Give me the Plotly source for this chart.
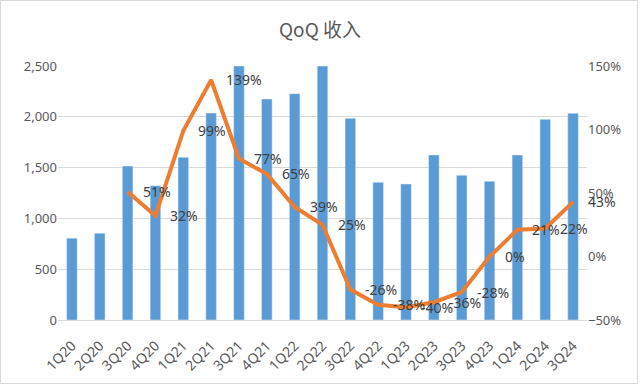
import plotly.graph_objects as go

quarters = ["1Q20","2Q20","3Q20","4Q20","1Q21","2Q21","3Q21","4Q21","1Q22","2Q22",
            "3Q22","4Q22","1Q23","2Q23","3Q23","4Q23","1Q24","2Q24","3Q24"]
revenue = [805, 855, 1515, 1322, 1601, 2037, 2500, 2175, 2228, 2500,
           1985, 1355, 1339, 1624, 1424, 1365, 1624, 1975, 2034]
qoq_quarters = quarters[2:]
qoq_pct = [51, 32, 99, 139, 77, 65, 39, 25, -26, -38, -40, -36, -28, 0, 21, 22, 43]

L, T, W, H = 58, 66, 529, 254
fig = go.Figure()
fig.add_trace(go.Bar(x=quarters, y=revenue, marker_color="#5B9BD5", width=0.38, yaxis="y"))
fig.add_trace(go.Scatter(
    x=qoq_quarters, y=qoq_pct, yaxis="y2", mode="lines",
    line=dict(color="#ED7D31", width=4),
))
for q, v in zip(qoq_quarters, qoq_pct):
    fig.add_annotation(x=q, y=v, xref="x", yref="y2", text=f"{v}%", showarrow=False,
                       xanchor="left", yanchor="middle", xshift=13,
                       font=dict(size=14, color="#404040", family="Noto Sans"))

tf = dict(size=13, color="#595959", family="Noto Sans")
fig.update_layout(
    width=640, height=385,
    margin=dict(l=L, r=640 - L - W, t=T, b=385 - T - H, autoexpand=False),
    paper_bgcolor="white", plot_bgcolor="white",
    showlegend=False,
    title=dict(text="QoQ 收入", x=0.5, xanchor="center", y=0.92, yanchor="middle",
               font=dict(family="Noto Sans CJK SC", size=19, color="#595959")),
    xaxis=dict(type="category", range=[-0.5, len(quarters) - 0.5], tickangle=-45,
               tickfont=dict(size=14, color="#595959", family="Noto Sans"),
               automargin=False, showline=True, linecolor="#d9d9d9", ticks="outside", ticklen=11,
               tickcolor="rgba(0,0,0,0)", showgrid=False),
    yaxis=dict(range=[0, 2500], dtick=500, tickformat=",", gridcolor="#d9d9d9", automargin=False,
               tickfont=tf, zeroline=False, ticks=""),
    yaxis2=dict(range=[-50, 150], dtick=50, overlaying="y", side="right", showgrid=False,
                ticksuffix="%", tickfont=tf, zeroline=False, automargin=False),
    bargap=0.62,
)
fig.add_shape(type="rect", xref="paper", yref="paper",
              x0=(0.5 - L) / W, x1=(637.5 - L) / W,
              y0=(T + H - 383.5) / H, y1=(T + H - 0.5) / H,
              line=dict(color="#d9d9d9", width=1), layer="below")
fig.write_html("out.html", config={"displayModeBar": False},
               post_script="document.body.style.margin='0';document.body.style.overflow='hidden';")
